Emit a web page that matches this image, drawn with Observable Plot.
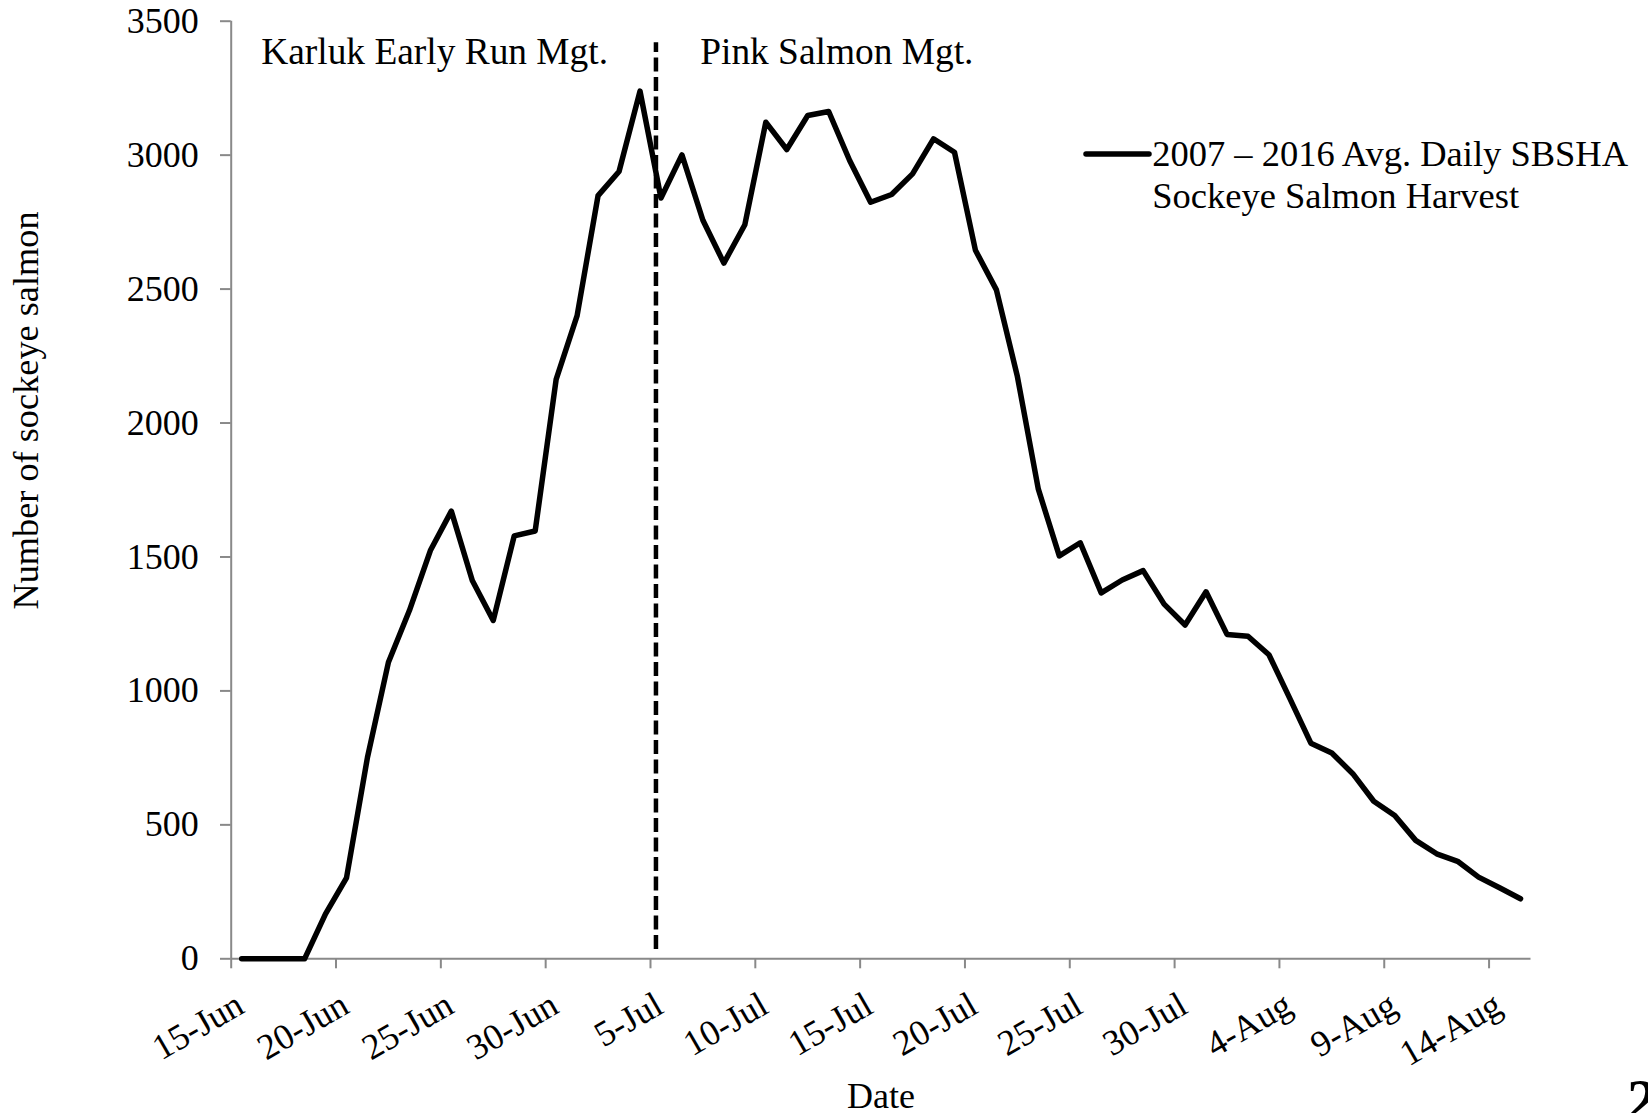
<!DOCTYPE html>
<html>
<head>
<meta charset="utf-8">
<script src="https://cdn.jsdelivr.net/npm/d3@7"></script>
<script src="https://cdn.jsdelivr.net/npm/@observablehq/plot@0.6"></script>
<style>
  html, body { margin: 0; padding: 0; background: #fff; }
  svg { display: block; }
</style>
</head>
<body>
<div id="chart"></div>
<script>
// ---- Data ----
const firstDay = "15-Jun-2016";
const dayAfterLast = "16-Aug-2016";
// 2007–2016 average daily SBSHA sockeye salmon harvest, 15-Jun .. 15-Aug
const harvest = [
  0, 0, 0, 0, 168, 302, 752, 1107, 1300, 1524,
  1671, 1412, 1263, 1579, 1597, 2163, 2401, 2849, 2939, 3239,
  2840, 3001, 2757, 2597, 2740, 3123, 3021, 3148, 3163, 2980,
  2824, 2853, 2930, 3061, 3011, 2645, 2497, 2174, 1753, 1504,
  1553, 1366, 1414, 1449, 1324, 1246, 1370, 1211, 1204, 1135,
  971, 805, 768, 691, 588, 535, 442, 392, 364, 305,
  265, 224
];
const xTickLabels = ["15-Jun", "20-Jun", "25-Jun", "30-Jun", "5-Jul", "10-Jul", "15-Jul",
  "20-Jul", "25-Jul", "30-Jul", "4-Aug", "9-Aug", "14-Aug"];
const yTicks = [0, 500, 1000, 1500, 2000, 2500, 3000, 3500];
const boundaryTime = "5-Jul-2016 06:15";   // Karluk early run / pink salmon management switch
const boundarySpan = [35, 3420];
const seriesName = "2007 \u2013 2016 Avg. Daily SBSHA\nSockeye Salmon Harvest";
const leftNote = "Karluk Early Run Mgt.";
const rightNote = "Pink Salmon Mgt.";
const yTitle = "Number of sockeye salmon";
const xTitle = "Date";
const pageNumber = "2";

// ---- Build tables ----
const parseDay = d3.utcParse("%d-%b-%Y");
const parseTime = d3.utcParse("%d-%b-%Y %H:%M");
const start = parseDay(firstDay);
const end = parseDay(dayAfterLast);
const days = d3.utcDay.range(start, end);
const rows = days.map((d, i) => ({ date: d3.utcHour.offset(d, 12), value: harvest[i] }));
const tickDates = xTickLabels.map(s => parseDay(s + "-2016"));
const boundary = parseTime(boundaryTime);

const gray = "#898989";
const font = "'Liberation Serif', 'Times New Roman', Times, serif";

const legendSample = (index, scales, values, dims) => {
  const g = d3.create("svg:g");
  g.append("line")
    .attr("x1", 1086).attr("x2", 1149).attr("y1", 154).attr("y2", 154)
    .attr("stroke", "#000").attr("stroke-width", 5.5).attr("stroke-linecap", "round");
  return g.node();
};

const chart = Plot.plot({
  width: 1648,
  height: 1113,
  marginLeft: 230.7,
  marginRight: 117.5,
  marginTop: 20.7,
  marginBottom: 154.7,
  style: { fontFamily: font, fontSize: "36px", color: "#000", background: "#fff" },
  x: { type: "utc", domain: [start, end] },
  y: { domain: [0, 3500] },
  marks: [
    Plot.axisY(yTicks, {
      tickSize: 10.7, tickPadding: 21.7, stroke: gray, fill: "#000", strokeWidth: 2,
      tickFormat: d3.format("d"), fontSize: 36, label: null
    }),
    Plot.axisX(tickDates, {
      tickSize: 10, tickPadding: 0, stroke: gray, strokeWidth: 2,
      tickFormat: () => "", label: null
    }),
    Plot.ruleY([0], { stroke: gray, strokeWidth: 2 }),
    Plot.ruleX([start], { stroke: gray, strokeWidth: 2 }),
    Plot.text(tickDates, {
      x: d => d, text: (d, i) => xTickLabels[i], frameAnchor: "bottom",
      rotate: -30, textAnchor: "end", dx: 15, dy: 53, fontSize: 36, fill: "#000"
    }),
    Plot.ruleX([boundary], {
      y1: boundarySpan[0], y2: boundarySpan[1], stroke: "#000",
      strokeWidth: 4.5, strokeDasharray: "14,5.5"
    }),
    Plot.lineY(rows, {
      x: "date", y: "value", stroke: "#000", strokeWidth: 5.5,
      strokeLinejoin: "round", strokeLinecap: "round"
    }),
    Plot.text([leftNote], { frameAnchor: "top-left", textAnchor: "start", lineAnchor: "bottom", dx: 30, dy: 42.6, fontSize: 37.4 }),
    Plot.text([rightNote], { frameAnchor: "top-left", textAnchor: "start", lineAnchor: "bottom", dx: 469, dy: 42.6, fontSize: 37.4 }),
    legendSample,
    Plot.text([seriesName], {
      frameAnchor: "top-left", textAnchor: "start", lineAnchor: "bottom",
      lineHeight: 1.145, dx: 921, dy: 186.9, fontSize: 36.5
    }),
    Plot.text([yTitle], { frameAnchor: "left", rotate: -90, textAnchor: "middle", lineAnchor: "bottom", dx: -193.7, dy: -79.5, fontSize: 36.3 }),
    Plot.text([xTitle], { frameAnchor: "bottom", textAnchor: "middle", lineAnchor: "bottom", dy: 149.5, fontSize: 36 }),
    Plot.text([pageNumber], { frameAnchor: "bottom-right", textAnchor: "start", lineAnchor: "bottom", dx: 96, dy: 161, fontSize: 60, fontWeight: "bold" })
  ]
});

document.getElementById("chart").appendChild(chart);
</script>
</body>
</html>
